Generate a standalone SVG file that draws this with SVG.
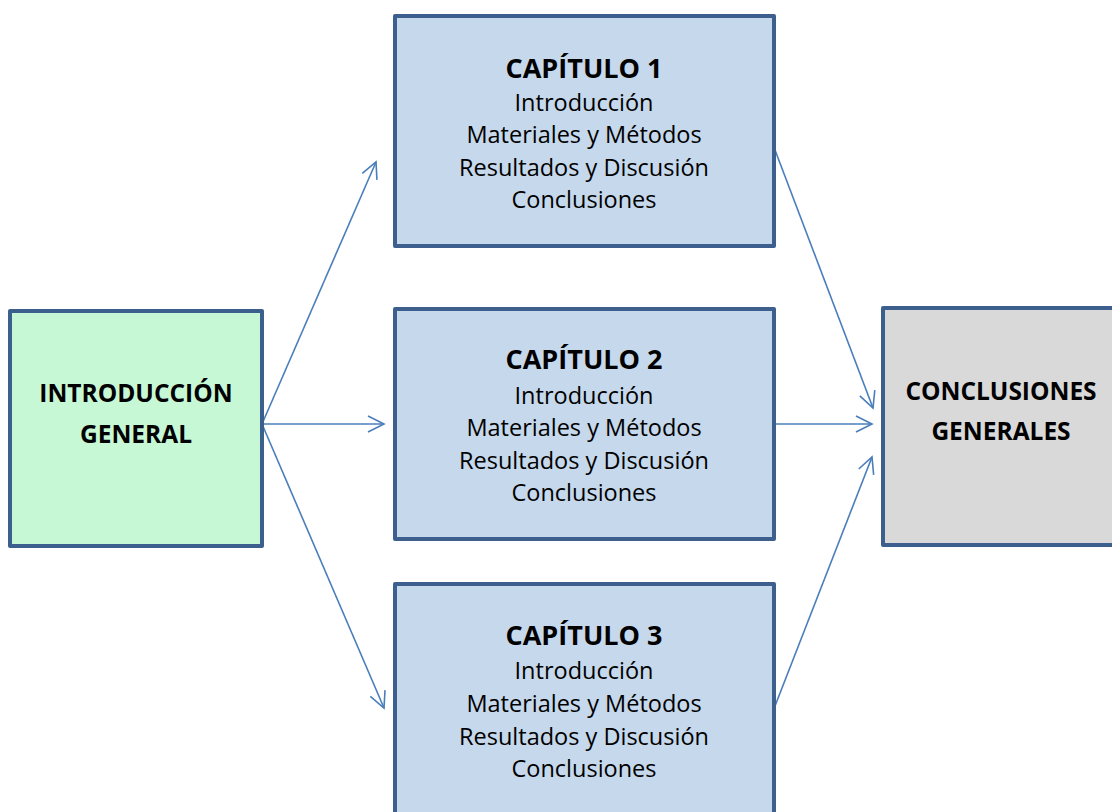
<svg xmlns="http://www.w3.org/2000/svg" width="1112" height="812" viewBox="0 0 1112 812">
<style>
.box{stroke:#3C5F8D;stroke-width:4;stroke-linejoin:round}
.t{font-family:"Open Sans","Liberation Sans",sans-serif;fill:#000;text-anchor:middle}
.h{font-weight:bold;font-size:24.5px}
.ch{font-weight:bold;font-size:27px}
.b{font-size:23.5px}
.c{stroke:#4A7EBB;stroke-width:1.6;fill:none}
</style>
<defs>
<marker id="ah" viewBox="0 0 20 20" refX="18" refY="10" markerWidth="20" markerHeight="20" markerUnits="userSpaceOnUse" orient="auto">
<path d="M2,2 L18,10 L2,18" fill="none" stroke="#4A7EBB" stroke-width="1.6"/>
</marker>
</defs>
<rect width="1112" height="812" fill="#fff"/>
<g id="connectors">
<line class="c" x1="262" y1="424" x2="376" y2="162" marker-end="url(#ah)"/>
<line class="c" x1="262" y1="424" x2="384" y2="424" marker-end="url(#ah)"/>
<line class="c" x1="262" y1="424" x2="384" y2="708" marker-end="url(#ah)"/>
<line class="c" x1="775" y1="150" x2="873" y2="408" marker-end="url(#ah)"/>
<line class="c" x1="775" y1="424" x2="872" y2="424" marker-end="url(#ah)"/>
<line class="c" x1="775" y1="706" x2="872" y2="457" marker-end="url(#ah)"/>
</g>
<g id="intro">
<rect class="box" x="10" y="311" width="252" height="235" fill="#C6F8D6"/>
<text class="t h" x="136" y="402">INTRODUCCIÓN</text>
<text class="t h" x="136" y="443">GENERAL</text>
</g>
<g id="cap1">
<rect class="box" x="395" y="16" width="379" height="230" fill="#C6D8EB"/>
<text class="t ch" x="584" y="78">CAPÍTULO 1</text>
<text class="t b" x="584" y="111">Introducción</text>
<text class="t b" x="584" y="143">Materiales y Métodos</text>
<text class="t b" x="584" y="176">Resultados y Discusión</text>
<text class="t b" x="584" y="208">Conclusiones</text>
</g>
<g id="cap2">
<rect class="box" x="395" y="309" width="379" height="230" fill="#C6D8EB"/>
<text class="t ch" x="584" y="369">CAPÍTULO 2</text>
<text class="t b" x="584" y="404">Introducción</text>
<text class="t b" x="584" y="436">Materiales y Métodos</text>
<text class="t b" x="584" y="469">Resultados y Discusión</text>
<text class="t b" x="584" y="501">Conclusiones</text>
</g>
<g id="cap3">
<rect class="box" x="395" y="584" width="379" height="240" fill="#C6D8EB"/>
<text class="t ch" x="584" y="645">CAPÍTULO 3</text>
<text class="t b" x="584" y="679">Introducción</text>
<text class="t b" x="584" y="712">Materiales y Métodos</text>
<text class="t b" x="584" y="745">Resultados y Discusión</text>
<text class="t b" x="584" y="777">Conclusiones</text>
</g>
<g id="concl">
<rect class="box" x="883" y="308" width="240" height="237" fill="#D9D9D9"/>
<text class="t h" x="1001" y="400">CONCLUSIONES</text>
<text class="t h" x="1001" y="440">GENERALES</text>
</g>
</svg>
